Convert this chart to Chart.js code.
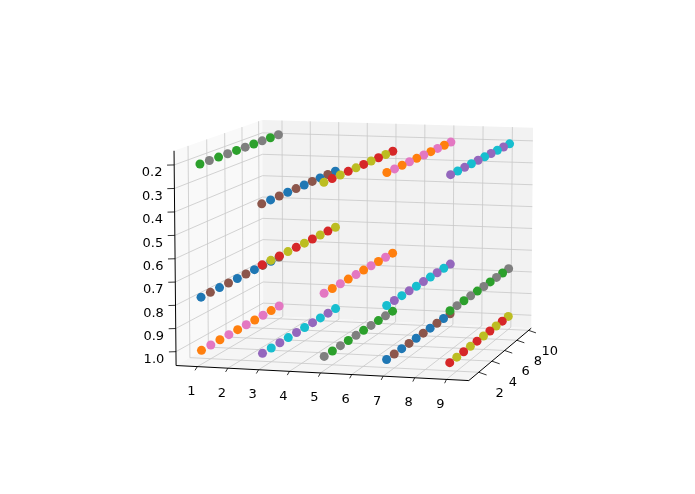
<!DOCTYPE html>
<html>
<head>
<meta charset="utf-8">
<script src="https://cdn.jsdelivr.net/npm/chart.js@4"></script>
<style>
  body { margin: 0; background: #fff; }
  #wrap { width: 695px; height: 494px; }
</style>
</head>
<body>
<div id="wrap"><canvas id="chart" width="695" height="494"></canvas></div>
<script>
// ---- data ----
const xTicks = [1, 2, 3, 4, 5, 6, 7, 8, 9];
const yTicks = [2, 4, 6, 8, 10];
const zTicks = [0.2, 0.3, 0.4, 0.5, 0.6, 0.7, 0.8, 0.9, 1.0];

const lineX = [1, 3, 5, 7, 9];
const yValues = [1, 2, 3, 4, 5, 6, 7, 8, 9, 10];
const zTop = [0.2, 0.36, 0.26, 0.21, 0.21];
const zMid = [0.77, 0.62, 0.73, 0.77, 0.78];
const zBottom = [1.0, 1.0, 1.0, 1.0, 1.0];

const topColors = [["green", "gray"], ["brown", "blue"], ["olive", "red"], ["orange", "pink"], ["purple", "cyan"]];
const midColors = [["blue", "brown"], ["red", "olive"], ["pink", "orange"], ["cyan", "purple"], ["green", "gray"]];
const bottomColors = [["orange", "pink"], ["purple", "cyan"], ["gray", "green"], ["blue", "brown"], ["red", "olive"]];

const tab10 = {
    blue: "#1f77b4", orange: "#ff7f0e", green: "#2ca02c", red: "#d62728", purple: "#9467bd",
    brown: "#8c564b", pink: "#e377c2", gray: "#7f7f7f", olive: "#bcbd22", cyan: "#17becf"
};

// ---- 3d view ----
const xLim = [0.3, 9.7], yLim = [0.55, 10.45], zLim = [0.14, 1.06];
const box = [1, 1, 0.724];
const view = { azim: -75, elev: 8.5, dist: 10, scale: 295, cx: 360, cy: 243 };

function project(x, y, z) {
    let u = ((x - xLim[0]) / (xLim[1] - xLim[0]) - 0.5) * box[0];
    let v = ((y - yLim[0]) / (yLim[1] - yLim[0]) - 0.5) * box[1];
    let w = (0.5 - (z - zLim[0]) / (zLim[1] - zLim[0])) * box[2]; // inverted z
    let a = view.azim * Math.PI / 180, e = view.elev * Math.PI / 180;
    let d = [Math.cos(e) * Math.cos(a), Math.cos(e) * Math.sin(a), Math.sin(e)];
    let r = [-Math.sin(a), Math.cos(a), 0];
    let up = [-Math.sin(e) * Math.cos(a), -Math.sin(e) * Math.sin(a), Math.cos(e)];
    let depth = view.dist - (u * d[0] + v * d[1] + w * d[2]);
    let f = view.dist / depth;
    return {
        x: view.cx + view.scale * f * (u * r[0] + v * r[1]),
        y: view.cy - view.scale * f * (u * up[0] + v * up[1] + w * up[2]),
        depth: depth
    };
}

// ---- points ----
let points = [];
function addLines(zs, pairs) {
    lineX.forEach((x, i) => {
        yValues.forEach((y, j) => {
            let p = project(x, y, zs[i]);
            points.push({ x: p.x, y: p.y, depth: p.depth, color: tab10[pairs[i][j % 2]] });
        });
    });
}
addLines(zTop, topColors);
addLines(zMid, midColors);
addLines(zBottom, bottomColors);
points.sort((a, b) => b.depth - a.depth);

// ---- panes, grid, axes ----
const framePlugin = {
    id: "frame",
    beforeDatasetsDraw(chart) {
        let ctx = chart.ctx, sx = chart.scales.x, sy = chart.scales.y;
        let P = (x, y, z) => { let p = project(x, y, z); return [sx.getPixelForValue(p.x), sy.getPixelForValue(p.y)]; };
        let poly = (pts, fill) => {
            ctx.beginPath();
            pts.forEach((p, i) => i ? ctx.lineTo(p[0], p[1]) : ctx.moveTo(p[0], p[1]));
            ctx.closePath();
            ctx.fillStyle = fill;
            ctx.fill();
        };
        let seg = (a, b, color, lw) => {
            ctx.beginPath();
            ctx.moveTo(a[0], a[1]);
            ctx.lineTo(b[0], b[1]);
            ctx.strokeStyle = color;
            ctx.lineWidth = lw;
            ctx.stroke();
        };
        let [x0, x1] = xLim, [y0, y1] = yLim, [zt, zb] = zLim;
        ctx.save();
        // panes
        poly([P(x0, y0, zt), P(x0, y1, zt), P(x0, y1, zb), P(x0, y0, zb)], "#f9f9f9");
        poly([P(x0, y1, zt), P(x1, y1, zt), P(x1, y1, zb), P(x0, y1, zb)], "#f2f2f2");
        poly([P(x0, y0, zb), P(x1, y0, zb), P(x1, y1, zb), P(x0, y1, zb)], "#f5f5f5");
        let g = "#c8c8c8";
        xTicks.forEach(x => {
            seg(P(x, y1, zt), P(x, y1, zb), g, 0.8);
            seg(P(x, y0, zb), P(x, y1, zb), g, 0.8);
        });
        yTicks.forEach(y => {
            seg(P(x0, y, zt), P(x0, y, zb), g, 0.8);
            seg(P(x0, y, zb), P(x1, y, zb), g, 0.8);
        });
        zTicks.forEach(z => {
            seg(P(x0, y0, z), P(x0, y1, z), g, 0.8);
            seg(P(x0, y1, z), P(x1, y1, z), g, 0.8);
        });
        // axis lines
        seg(P(x0, y0, zt), P(x0, y0, zb), "#000", 1);
        seg(P(x0, y0, zb), P(x1, y0, zb), "#000", 1);
        seg(P(x1, y0, zb), P(x1, y1, zb), "#000", 1);
        // ticks and labels
        ctx.fillStyle = "#000";
        ctx.font = "13px 'DejaVu Sans'";
        ctx.textAlign = "center";
        ctx.textBaseline = "middle";
        xTicks.forEach(x => {
            let a = P(x, y0, zb);
            seg(a, P(x, y0 - 0.25, zb + 0.01), "#000", 0.8);
            ctx.fillText(String(x), a[0] - 6, a[1] + 25);
        });
        yTicks.forEach(y => {
            let a = P(x1, y, zb);
            seg(a, P(x1 + 0.25, y, zb + 0.01), "#000", 0.8);
            ctx.fillText(String(y), a[0] + 21, a[1] + 21);
        });
        zTicks.forEach(z => {
            let a = P(x0, y0, z);
            seg(a, P(x0 - 0.2, y0 - 0.1, z), "#000", 0.8);
            ctx.fillText(z.toFixed(1), a[0] - 22, a[1] + 8);
        });
        ctx.restore();
    }
};

new Chart(document.getElementById("chart").getContext("2d"), {
    type: "scatter",
    data: {
        datasets: [{
            data: points.map(p => ({ x: p.x, y: p.y })),
            pointBackgroundColor: points.map(p => p.color),
            pointBorderWidth: 0,
            pointRadius: 4.5,
            pointHoverRadius: 4.5
        }]
    },
    options: {
        responsive: false,
        animation: false,
        devicePixelRatio: 1,
        layout: { padding: 0 },
        plugins: { legend: { display: false }, tooltip: { enabled: false } },
        scales: {
            x: { type: "linear", min: 0, max: 695, display: false },
            y: { type: "linear", min: 0, max: 494, reverse: true, display: false }
        }
    },
    plugins: [framePlugin]
});
</script>
</body>
</html>
